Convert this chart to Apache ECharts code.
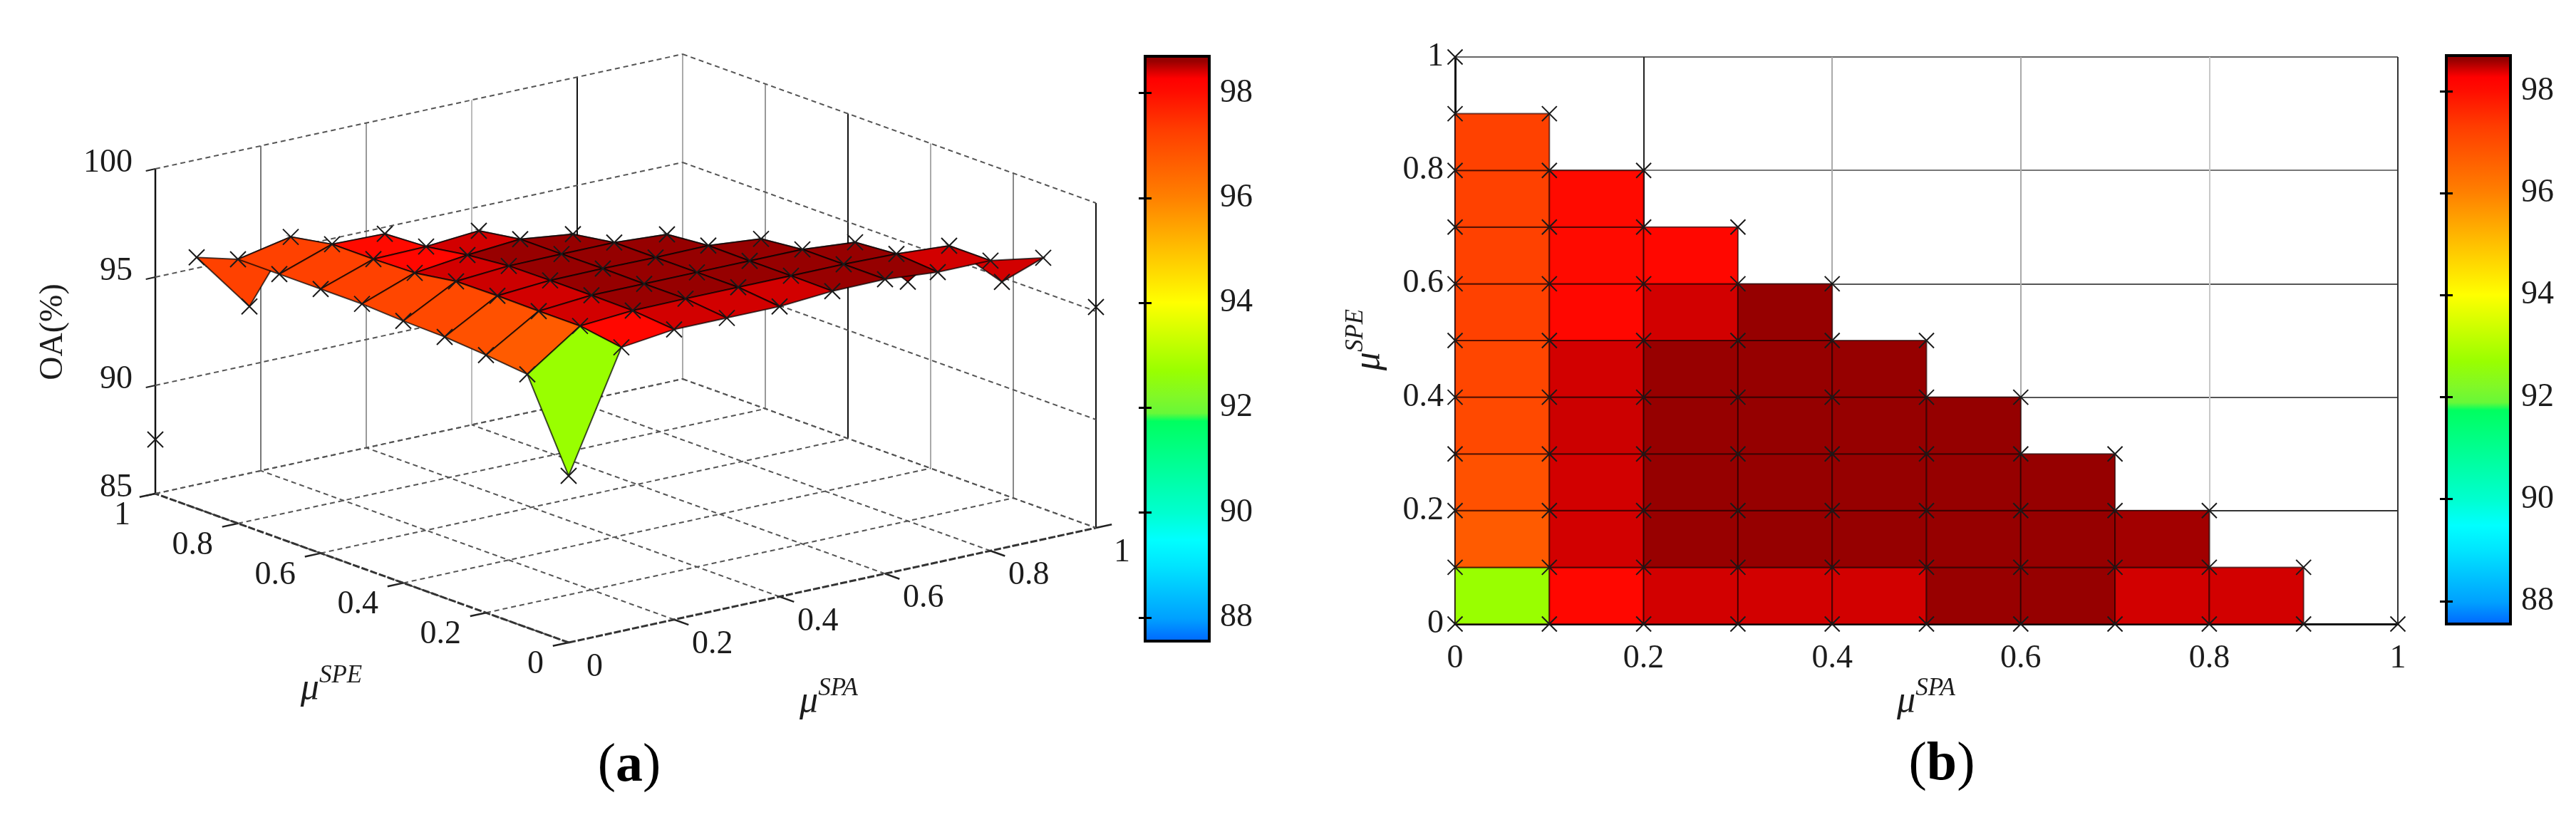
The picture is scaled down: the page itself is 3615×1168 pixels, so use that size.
<!DOCTYPE html>
<html>
<head>
<meta charset="utf-8">
<title>OA surface</title>
<script src="https://cdn.jsdelivr.net/npm/echarts@6/dist/echarts.min.js"></script>
<style>
  html, body { margin: 0; padding: 0; background: #fff; }
  #chart { width: 3615px; height: 1168px; }
</style>
</head>
<body>
<div id="chart"></div>
<script>
// tick labels
const spaTicks = [0, 0.2, 0.4, 0.6, 0.8, 1]
const speTicks = [0, 0.2, 0.4, 0.6, 0.8, 1]
const oaTicks = [85, 90, 95, 100]
const barTicks = [88, 90, 92, 94, 96, 98]

// OA(%) per mu_SPE row, mu_SPA goes 0, 0.1, 0.2 ... along the row
const oaSpe00 = [92.7, 98.1, 98.4, 98.4, 98.4, 98.58, 98.6, 98.4, 98.4, 98.0, 95.2]
const oaSpe01 = [96.7, 98.4, 98.58, 98.6, 98.6, 98.6, 98.6, 98.55, 98.4, 96.2]
const oaSpe02 = [96.9, 98.4, 98.6, 98.6, 98.6, 98.6, 98.6, 98.4, 96.05]
const oaSpe03 = [97.05, 98.42, 98.6, 98.62, 98.6, 98.62, 98.4, 96.3]
const oaSpe04 = [97.1, 98.4, 98.58, 98.6, 98.6, 98.45, 96.5]
const oaSpe05 = [97.2, 98.1, 98.4, 98.6, 98.3, 96.5]
const oaSpe06 = [97.2, 98.05, 98.1, 98.3, 96.5]
const oaSpe07 = [97.2, 98.05, 98.0, 96.4]
const oaSpe08 = [97.2, 97.7, 96.0]
const oaSpe09 = [96.6, 93.8]
const oaSpe10 = [87.5]
const oaRows = [oaSpe00, oaSpe01, oaSpe02, oaSpe03, oaSpe04, oaSpe05, oaSpe06, oaSpe07, oaSpe08, oaSpe09, oaSpe10]

// colormap
const mapValues = [87.55, 88, 89, 89.5, 90, 91, 91.75, 91.9, 92.2, 92.7, 93.3, 94, 95, 96, 97.3, 98, 98.25, 98.42, 98.58, 98.65, 98.7]
const mapColors = ['#0064ff', '#00a0ff', '#00e4ff', '#00ffff', '#00ffd0', '#00ff90', '#00ff60', '#68f838', '#80f828', '#99ff00', '#c8ff00', '#ffff00', '#ffc000', '#ff8000', '#ff3c00', '#ff0c00', '#ff0000', '#cc0000', '#980000', '#920000', '#600000']
const barMin = 87.55
const barMax = 98.7

const FONT = '"Liberation Serif", "Times New Roman", serif'

function colorOf (v) {
  for (let k = 1; k < mapValues.length; k++) {
    if (v <= mapValues[k]) {
      const t = (v - mapValues[k - 1]) / (mapValues[k] - mapValues[k - 1])
      return echarts.color.lerp(t, [mapColors[k - 1], mapColors[k]])
    }
  }
  return mapColors[mapColors.length - 1]
}

// matlab style 3d view of panel a, echarts core has no 3d so project onto a hidden plane grid
function project (spa, spe, oa) {
  return [798 + spa * 740 - spe * 580, 902 - spa * 161 - spe * 209 - (oa - 85) * 30.4]
}

// vertices and faces
const vertices = []
const cells = []
oaRows.forEach((row, j) => {
  row.forEach((v, i) => {
    vertices.push([i, j, v])
    if (i + j <= 8) cells.push([i, j])
  })
})
// far faces first so the near ones cover them
const paintCells = cells.slice().sort((a, b) => (b[0] + b[1]) - (a[0] + a[1]))

const markerPath = 'path://M0,0L10,10M10,0L0,10'
const isHidden = (p) => p[0] + p[1] === 10 && p[0] >= 2 && p[0] <= 8

// box lines of panel a
const DOT = '#555'
const segments = []
function seg (a, b, color, width, dash) {
  segments.push({ a, b, color, width, dash })
}
const spaWall = { 0.2: '#777', 0.4: '#999', 0.6: '#bbb', 0.8: '#111', 1: '#aaa' }
const speWall = { 0.8: '#999', 0.6: '#111', 0.4: '#aaa', 0.2: '#888', 0: '#111' }
spaTicks.forEach(s => {
  if (s > 0) seg(project(s, 1, 85), project(s, 1, 100), spaWall[s], 2)
  if (s < 1) seg(project(s, 0, 85), project(s, 1, 85), DOT, 2, [7, 5])
  if (s > 0 && s < 1) seg(project(s, 0, 85), project(s, -0.035, 85), '#222', 2.5)
})
speTicks.forEach(s => {
  if (s < 1) seg(project(1, s, 85), project(1, s, 100), speWall[s], 2)
  if (s > 0) seg(project(0, s, 85), project(1, s, 85), DOT, 2, [7, 5])
  seg(project(0, s, 85), project(-0.03, s, 85), '#222', 2.5)
})
seg(project(1, 1, 85), project(1, 0, 85), DOT, 2, [7, 5])
seg(project(0, 1, 85), project(0, 1, 100), '#111', 2.5)
seg(project(0, 0, 85), project(0, 1, 85), '#333', 3, [10, 3])
seg(project(0, 0, 85), project(1, 0, 85), '#333', 3, [10, 3])
seg(project(1, 0, 85), project(1.03, 0, 85), '#222', 2.5)
oaTicks.forEach(z => {
  seg(project(0, 1, z), project(1, 1, z), DOT, 2, [7, 5])
  seg(project(1, 1, z), project(1, 0, z), DOT, 2, [7, 5])
  seg(project(0, 1, z), project(-0.018, 1, z), '#222', 2)
})

const planeTexts = []
oaTicks.forEach(z => {
  const p = project(0, 1, z)
  planeTexts.push({ p: [p[0] - 32, p[1] - 8], text: String(z), align: 'right' })
})
speTicks.forEach(s => {
  const p = project(0, s, 85)
  planeTexts.push({ p: [p[0] - 35, p[1] + 31], text: String(s), align: 'right' })
})
spaTicks.forEach(s => {
  const p = project(s, 0, 85)
  planeTexts.push({ p: [p[0] + 25, p[1] + 35], text: String(s), align: 'left' })
})

const textStyle = { fontFamily: FONT, fontSize: 46, color: '#1c1c1c' }

function colorBarItem (params, api) {
  const p1 = api.coord([0, barMax])
  const p2 = api.coord([1, barMin])
  const stops = mapValues.map((v, k) => ({ offset: (v - barMin) / (barMax - barMin), color: mapColors[k] }))
  return {
    type: 'rect',
    shape: { x: p1[0], y: p1[1], width: p2[0] - p1[0], height: p2[1] - p1[1] },
    style: { fill: new echarts.graphic.LinearGradient(0, 1, 0, 0, stops), stroke: '#000', lineWidth: 4 }
  }
}

function barYAxes (gridIndex) {
  const common = {
    type: 'value', gridIndex, min: barMin, max: barMax, z: 6,
    splitLine: { show: false },
    axisLine: { show: false },
    axisTick: { show: true, inside: true, length: 9, customValues: barTicks, lineStyle: { color: '#000', width: 3 } }
  }
  return [
    Object.assign({}, common, {
      position: 'right',
      axisLabel: { show: true, customValues: barTicks, margin: 15, fontFamily: FONT, fontSize: 46, color: '#1c1c1c' }
    }),
    Object.assign({}, common, { position: 'left', axisLabel: { show: false } })
  ]
}

const hiddenX = (gridIndex, min, max) => ({ type: 'value', gridIndex, min, max, show: false })
const superRich = {
  mu: { fontFamily: FONT, fontStyle: 'italic', fontSize: 52, fill: '#1c1c1c', lineHeight: 62, verticalAlign: 'bottom' },
  sup: { fontFamily: FONT, fontStyle: 'italic', fontSize: 35, fill: '#1c1c1c', lineHeight: 62, verticalAlign: 'top' }
}
const panelRich = {
  n: { fontFamily: FONT, fontSize: 76, fill: '#000' },
  b: { fontFamily: FONT, fontSize: 76, fontWeight: 'bold', fill: '#000' }
}

const chart = echarts.init(document.getElementById('chart'), null, { renderer: 'canvas' })
chart.setOption({
  backgroundColor: '#fff',
  animation: false,
  grid: [
    { left: 0, top: 0, width: 1800, height: 1168 },
    { left: 1607, top: 79, width: 90, height: 821 },
    { left: 2042, top: 80, width: 1323, height: 796 },
    { left: 3433, top: 78, width: 90, height: 798 }
  ],
  xAxis: [
    hiddenX(0, 0, 1800),
    hiddenX(1, 0, 1),
    {
      type: 'value', gridIndex: 2, min: 0, max: 1, interval: 0.2,
      axisLine: { show: true, lineStyle: { color: '#111', width: 3 } },
      axisTick: { show: false },
      axisLabel: Object.assign({ margin: 26 }, textStyle),
      splitLine: { show: true, lineStyle: { width: 2, color: ['#111', '#222', '#aaa', '#aaa', '#c8c8c8', '#333'] } }
    },
    hiddenX(3, 0, 1)
  ],
  yAxis: [
    { type: 'value', gridIndex: 0, min: 0, max: 1168, inverse: true, show: false },
    ...barYAxes(1),
    {
      type: 'value', gridIndex: 2, min: 0, max: 1, interval: 0.2,
      axisLine: { show: true, lineStyle: { color: '#111', width: 3 } },
      axisTick: { show: false },
      axisLabel: Object.assign({ margin: 16 }, textStyle),
      splitLine: { show: true, lineStyle: { width: 2, color: ['#111', '#333', '#555', '#555', '#777', '#666'] } }
    },
    ...barYAxes(3)
  ],
  series: [
    // panel a: box
    {
      type: 'custom', xAxisIndex: 0, yAxisIndex: 0, z: 1, silent: true,
      data: segments.map(s => [s.a[0], s.a[1], s.b[0], s.b[1]]),
      renderItem (params, api) {
        const s = segments[params.dataIndex]
        const a = api.coord([api.value(0), api.value(1)])
        const b = api.coord([api.value(2), api.value(3)])
        return {
          type: 'line',
          shape: { x1: a[0], y1: a[1], x2: b[0], y2: b[1] },
          style: { stroke: s.color, lineWidth: s.width, lineDash: s.dash || null }
        }
      }
    },
    // panel a: markers that sit under the surface
    {
      type: 'scatter', xAxisIndex: 0, yAxisIndex: 0, z: 2, silent: true,
      symbol: markerPath, symbolSize: 22,
      itemStyle: { color: 'none', borderColor: '#1a1a1a', borderWidth: 2, opacity: 1 },
      data: vertices.filter(isHidden).map(p => project(p[0] / 10, p[1] / 10, p[2]))
    },
    // panel a: surface
    {
      type: 'custom', xAxisIndex: 0, yAxisIndex: 0, z: 3, silent: true,
      data: paintCells,
      renderItem (params, api) {
        const i = api.value(0)
        const j = api.value(1)
        const corners = [[i, j], [i + 1, j], [i + 1, j + 1], [i, j + 1]]
        const points = corners.map(c => api.coord(project(c[0] / 10, c[1] / 10, oaRows[c[1]][c[0]])))
        return {
          type: 'polygon',
          shape: { points },
          style: { fill: colorOf(oaRows[j][i]), stroke: 'rgba(0,0,0,0.7)', lineWidth: 2 }
        }
      }
    },
    {
      type: 'scatter', xAxisIndex: 0, yAxisIndex: 0, z: 4, silent: true,
      symbol: markerPath, symbolSize: 22,
      itemStyle: { color: 'none', borderColor: '#1a1a1a', borderWidth: 2, opacity: 1 },
      data: vertices.filter(p => !isHidden(p)).map(p => project(p[0] / 10, p[1] / 10, p[2]))
    },
    // panel a: tick labels
    {
      type: 'custom', xAxisIndex: 0, yAxisIndex: 0, z: 5, silent: true,
      data: planeTexts.map(t => t.p),
      renderItem (params, api) {
        const t = planeTexts[params.dataIndex]
        const p = api.coord([api.value(0), api.value(1)])
        return {
          type: 'text', x: p[0], y: p[1],
          style: { text: t.text, font: '46px ' + FONT, fill: '#1c1c1c', align: t.align, verticalAlign: 'middle' }
        }
      }
    },
    // colour bars
    { type: 'custom', xAxisIndex: 1, yAxisIndex: 1, z: 2, silent: true, data: [[0, barMin]], renderItem: colorBarItem },
    { type: 'custom', xAxisIndex: 3, yAxisIndex: 4, z: 2, silent: true, data: [[0, barMin]], renderItem: colorBarItem },
    // panel b: flat shaded faces
    {
      type: 'custom', xAxisIndex: 2, yAxisIndex: 3, z: 3, silent: true,
      data: cells,
      renderItem (params, api) {
        const i = api.value(0)
        const j = api.value(1)
        const p1 = api.coord([i / 10, (j + 1) / 10])
        const p2 = api.coord([(i + 1) / 10, j / 10])
        return {
          type: 'rect',
          shape: { x: p1[0], y: p1[1], width: p2[0] - p1[0], height: p2[1] - p1[1] },
          style: { fill: colorOf(oaRows[j][i]), stroke: 'rgba(30,0,0,0.65)', lineWidth: 2 }
        }
      }
    },
    {
      type: 'scatter', xAxisIndex: 2, yAxisIndex: 3, z: 4, silent: true,
      symbol: markerPath, symbolSize: 21, clip: false,
      itemStyle: { color: 'none', borderColor: '#1a1a1a', borderWidth: 2, opacity: 1 },
      data: vertices.map(p => [p[0] / 10, p[1] / 10])
    }
  ],
  graphic: [
    { type: 'text', x: 75, y: 466, rotation: Math.PI / 2, style: { text: 'OA(%)', font: '46px ' + FONT, fill: '#1c1c1c', align: 'center', verticalAlign: 'middle' } },
    { type: 'text', x: 465, y: 962, style: { text: '{mu|μ}{sup|SPE}', rich: superRich, align: 'center', verticalAlign: 'middle' } },
    { type: 'text', x: 1163, y: 980, style: { text: '{mu|μ}{sup|SPA}', rich: superRich, align: 'center', verticalAlign: 'middle' } },
    { type: 'text', x: 2703, y: 980, style: { text: '{mu|μ}{sup|SPA}', rich: superRich, align: 'center', verticalAlign: 'middle' } },
    { type: 'text', x: 1916, y: 477, rotation: Math.PI / 2, style: { text: '{mu|μ}{sup|SPE}', rich: superRich, align: 'center', verticalAlign: 'middle' } },
    { type: 'text', x: 883, y: 1076, style: { text: '{n|(}{b|a}{n|)}', rich: panelRich, align: 'center', verticalAlign: 'middle' } },
    { type: 'text', x: 2725, y: 1074, style: { text: '{n|(}{b|b}{n|)}', rich: panelRich, align: 'center', verticalAlign: 'middle' } }
  ]
})
</script>
</body>
</html>
